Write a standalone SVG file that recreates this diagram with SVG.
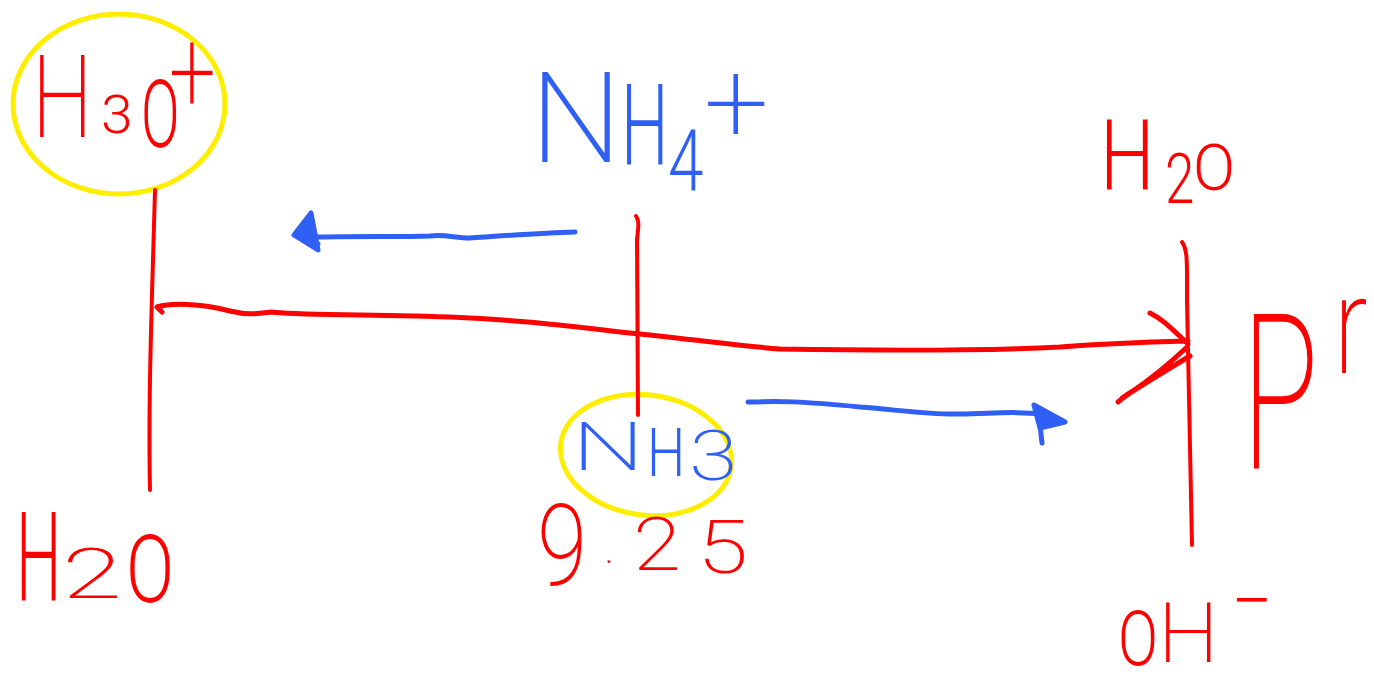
<svg xmlns="http://www.w3.org/2000/svg" width="1374" height="684" viewBox="0 0 1374 684">
<style>
text{font-family:Roboto,"Liberation Sans",sans-serif;font-weight:300}
text.t{font-weight:200}
.r{fill:#ff0000}
.b{fill:#2f5ff5}
.rl{fill:none;stroke:#ff0000;stroke-width:4;stroke-linecap:round;stroke-linejoin:round}
.bl{fill:none;stroke:#2f5ff5;stroke-width:5;stroke-linecap:round;stroke-linejoin:round}
.yl{fill:none;stroke:#ffee00;stroke-width:5}
</style>
<rect width="1374" height="684" fill="#ffffff"/>
<g id="h3o">
<ellipse class="yl" cx="119" cy="104" rx="106" ry="90"/>
<text class="r t" font-size="86" transform="translate(32,137) scale(1,1.34)">H</text>
<text class="r" font-size="57" transform="translate(101,133) scale(1,0.94)">3</text>
<text class="r" font-size="57" transform="translate(141,147) scale(1,1.66)">O</text>
<text class="r t" font-size="83" transform="translate(169,112) scale(1,1.4)">+</text>
</g>
<g id="h2o-left">
<text class="r" font-size="64" transform="translate(16,600) scale(1,1.95)">H</text>
<text class="r t" font-size="109" transform="translate(62,598) scale(1,0.645)">2</text>
<text class="r" font-size="71" transform="translate(126,602) scale(1,1.33)">O</text>
</g>
<g id="nh4">
<text class="b t" font-size="130" transform="translate(530,162) scale(1,0.97)">N</text>
<text class="b" font-size="67" transform="translate(621,165) scale(1,1.68)">H</text>
<text class="b" font-size="64" transform="translate(668,190) scale(1,1.32)">4</text>
<text class="b t" font-size="115" transform="translate(704,142)">+</text>
</g>
<g id="nh3">
<ellipse class="yl" cx="646" cy="455" rx="86" ry="60" transform="rotate(8 646 455)"/>
<text class="b t" font-size="102" transform="translate(572,470) scale(1,0.66)">N</text>
<text class="b" font-size="54" transform="translate(647,476) scale(1,1.25)">H</text>
<text class="b t" font-size="88" transform="translate(689,480) scale(1,0.8)">3</text>
</g>
<g id="pka">
<text class="r t" font-size="91" transform="translate(537,585) scale(1,1.24)">9</text>
<text class="r" font-size="35" transform="translate(605,563)">.</text>
<text class="r t" font-size="87" transform="translate(633,570) scale(1,0.86)">2</text>
<text class="r t" font-size="93" transform="translate(697,573) scale(1,0.8)">5</text>
</g>
<g id="h2o-right">
<text class="r" font-size="77" transform="translate(1100,190) scale(1,1.28)">H</text>
<text class="r" font-size="53" transform="translate(1165,203) scale(1,1.33)">2</text>
<text class="r" font-size="62" transform="translate(1193,190) scale(1,1.05)">O</text>
</g>
<g id="oh">
<text class="r" font-size="59" transform="translate(1118,665) scale(1,1.28)">O</text>
<text class="r t" font-size="86" transform="translate(1158,662) scale(1,0.976)">H</text>
<text class="r" font-size="73" transform="translate(1231,626)">−</text>
</g>
<g id="pr">
<text class="r t" font-size="126" transform="translate(1242,468) scale(1,1.73)">P</text>
<text class="r t" font-size="100" transform="translate(1334,373) scale(1,1.38)">r</text>
</g>
<g id="connectors">
<path class="rl" d="M155,190 C152,300 148,400 150,490"/>
<path class="rl" d="M636,216 C640,222 638,228 637,240 L638,415"/>
<path class="rl" d="M1182,242 C1188,250 1187,265 1187,300 L1192,545"/>
<path class="rl" style="stroke-width:5" d="M162,312 L157,307 C170,303 200,303 230,311 C250,316 262,313 272,312 C290,315 340,314 450,317 C520,320 560,325 620,332 C700,340 740,346 780,349 C900,351 1000,350 1060,347 C1100,344 1150,342 1188,341"/>
<path class="rl" style="stroke-width:5" d="M1150,313 C1160,318 1165,322 1188,344"/>
<path class="rl" style="stroke-width:5" d="M1118,402 C1130,392 1150,382 1186,348 M1122,398 C1145,383 1170,368 1190,356"/>
<path class="bl" d="M575,232 C540,233 500,236 470,238 C455,238 445,234 430,236 C400,237 360,236 318,237"/>
<path class="bl" style="fill:#2f5ff5" d="M311,213 L318,250 L294,235 Z M300,236 L318,244"/>
<path class="bl" d="M748,402 C780,401 800,401 860,407 C900,410 930,415 960,414 C1000,413 1020,411 1040,414"/>
<path class="bl" style="fill:#2f5ff5" d="M1034,405 L1065,422 L1040,428 Z M1040,425 L1042,443"/>
</g>
</svg>
